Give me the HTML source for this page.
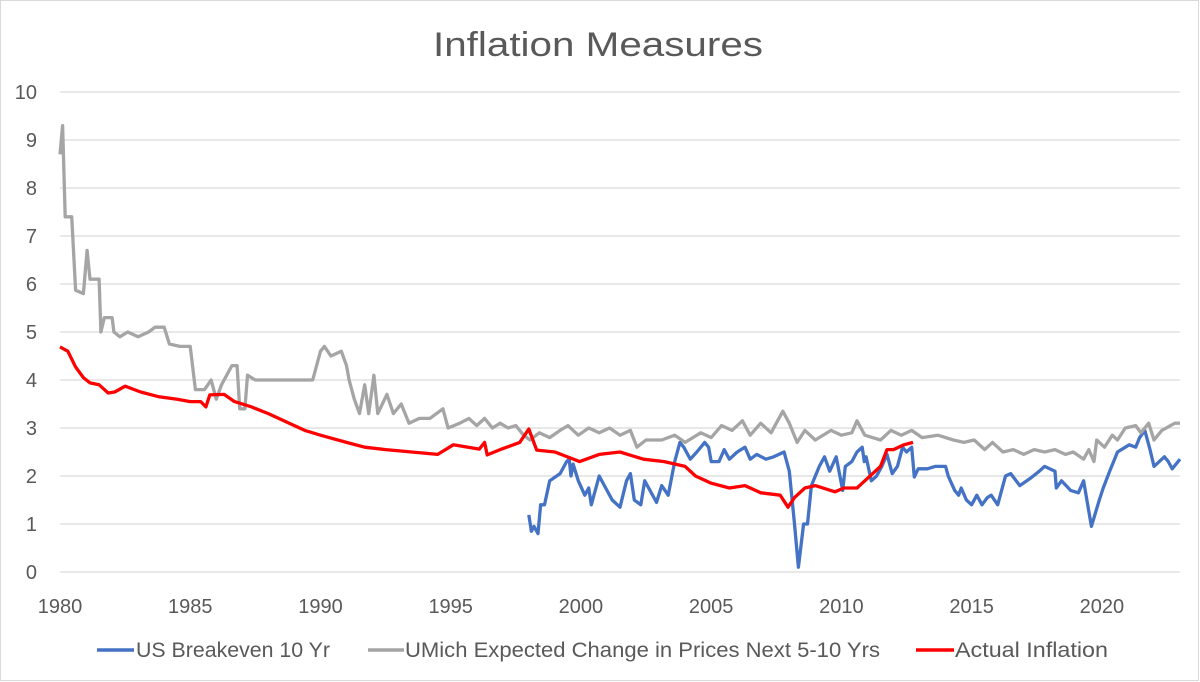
<!DOCTYPE html>
<html><head><meta charset="utf-8">
<style>
html,body{margin:0;padding:0;background:#fff;}
svg{display:block;font-family:"Liberation Sans",sans-serif;}
</style></head>
<body>
<svg id="chart" width="1200" height="682" viewBox="0 0 1200 682" xmlns="http://www.w3.org/2000/svg">
<rect x="0.5" y="0.5" width="1198" height="680" fill="#fff" stroke="#d9d9d9"/>
<text x="433" y="56" textLength="330" lengthAdjust="spacingAndGlyphs" font-size="34" fill="#595959">Inflation Measures</text>
<g id="grid"></g><g id="ylabels"></g><g id="xlabels"></g><g id="series"></g>
<g font-size="21" fill="#595959">
<g><line x1="97" y1="650" x2="134" y2="650" stroke="#4472C4" stroke-width="3.5"/><text x="136" y="657" textLength="194" lengthAdjust="spacingAndGlyphs">US Breakeven 10 Yr</text></g>
<g><line x1="368" y1="650" x2="404" y2="650" stroke="#A5A5A5" stroke-width="3.5"/><text x="405" y="657" textLength="475" lengthAdjust="spacingAndGlyphs">UMich Expected Change in Prices Next 5-10 Yrs</text></g>
<g><line x1="916" y1="650" x2="954" y2="650" stroke="#FF0000" stroke-width="3.5"/><text x="955" y="657" textLength="153" lengthAdjust="spacingAndGlyphs">Actual Inflation</text></g>
</g>
</svg>
<script>
const yTicks=[0,1,2,3,4,5,6,7,8,9,10];
const xTicks=[1980,1985,1990,1995,2000,2005,2010,2015,2020];
const breakevenYears=[1998.0,1998.1,1998.2,1998.35,1998.45,1998.6,1998.8,1999.2,1999.45,1999.55,1999.62,1999.7,1999.9,2000.15,2000.3,2000.4,2000.7,2000.9,2001.2,2001.5,2001.75,2001.9,2002.05,2002.3,2002.45,2002.65,2002.9,2003.1,2003.35,2003.6,2003.8,2003.95,2004.2,2004.45,2004.75,2004.9,2005.0,2005.3,2005.5,2005.7,2006.0,2006.3,2006.5,2006.75,2007.1,2007.4,2007.8,2008.0,2008.2,2008.35,2008.55,2008.7,2008.85,2009.15,2009.35,2009.55,2009.8,2010.05,2010.15,2010.4,2010.6,2010.8,2010.88,2010.95,2011.15,2011.35,2011.55,2011.75,2011.95,2012.15,2012.35,2012.5,2012.7,2012.8,2012.95,2013.3,2013.6,2014.0,2014.1,2014.35,2014.5,2014.6,2014.8,2015.0,2015.2,2015.4,2015.6,2015.75,2016.0,2016.3,2016.5,2016.85,2017.25,2017.6,2017.8,2018.2,2018.25,2018.45,2018.8,2019.1,2019.3,2019.6,2019.9,2020.05,2020.3,2020.6,2021.05,2021.3,2021.45,2021.65,2021.85,2022.0,2022.4,2022.55,2022.7,2023.0];
const breakevenValues=[1.19,0.85,0.95,0.8,1.4,1.4,1.9,2.05,2.3,2.35,2.0,2.25,1.9,1.6,1.75,1.4,2.0,1.8,1.5,1.35,1.9,2.05,1.5,1.4,1.9,1.7,1.45,1.8,1.6,2.3,2.7,2.6,2.35,2.5,2.7,2.6,2.3,2.3,2.55,2.35,2.5,2.6,2.35,2.45,2.35,2.4,2.5,2.1,1.0,0.1,1.0,1.0,1.8,2.2,2.4,2.1,2.4,1.7,2.2,2.3,2.5,2.6,2.3,2.4,1.9,2.0,2.2,2.45,2.05,2.2,2.6,2.5,2.6,1.98,2.15,2.15,2.2,2.2,2.0,1.7,1.6,1.75,1.5,1.4,1.6,1.4,1.55,1.6,1.4,2.0,2.05,1.8,1.95,2.1,2.2,2.1,1.75,1.9,1.7,1.65,1.9,0.95,1.5,1.75,2.1,2.5,2.65,2.6,2.8,2.95,2.55,2.2,2.4,2.3,2.15,2.35];
const umichYears=[1980.0,1980.1,1980.2,1980.45,1980.6,1980.9,1981.04,1981.15,1981.5,1981.57,1981.7,1982.0,1982.07,1982.3,1982.6,1983.0,1983.4,1983.65,1984.0,1984.2,1984.6,1985.0,1985.2,1985.55,1985.8,1986.0,1986.2,1986.6,1986.8,1986.9,1987.1,1987.2,1987.5,1989.7,1990.0,1990.15,1990.4,1990.8,1991.0,1991.1,1991.3,1991.5,1991.7,1991.85,1992.05,1992.2,1992.55,1992.8,1993.1,1993.4,1993.8,1994.2,1994.7,1994.9,1995.35,1995.7,1996.0,1996.3,1996.6,1996.9,1997.2,1997.5,1997.8,1998.05,1998.4,1998.8,1999.2,1999.5,1999.9,2000.3,2000.7,2001.1,2001.5,2001.9,2002.15,2002.5,2003.1,2003.6,2004.0,2004.6,2005.0,2005.4,2005.8,2006.2,2006.5,2006.9,2007.3,2007.75,2008.0,2008.3,2008.6,2009.0,2009.6,2010.0,2010.4,2010.6,2010.9,2011.5,2011.9,2012.3,2012.7,2013.1,2013.7,2014.3,2014.7,2015.1,2015.5,2015.8,2016.2,2016.6,2017.0,2017.4,2017.8,2018.2,2018.6,2018.9,2019.3,2019.5,2019.7,2019.8,2020.1,2020.4,2020.6,2020.9,2021.3,2021.5,2021.8,2022.0,2022.3,2022.8,2023.0];
const umichValues=[8.7,9.3,7.4,7.4,5.87,5.8,6.7,6.1,6.1,5.0,5.3,5.3,5.0,4.9,5.0,4.9,5.0,5.1,5.1,4.75,4.7,4.7,3.8,3.8,4.0,3.6,3.9,4.3,4.3,3.4,3.4,4.1,4.0,4.0,4.6,4.7,4.5,4.6,4.3,4.0,3.6,3.3,3.9,3.3,4.1,3.3,3.7,3.3,3.5,3.1,3.2,3.2,3.4,3.0,3.1,3.2,3.05,3.2,3.0,3.1,3.0,3.05,2.85,2.75,2.9,2.8,2.95,3.05,2.85,3.0,2.9,3.0,2.85,2.95,2.6,2.75,2.75,2.85,2.7,2.9,2.8,3.05,2.95,3.15,2.85,3.1,2.9,3.35,3.1,2.7,2.95,2.75,2.95,2.85,2.9,3.15,2.85,2.75,2.95,2.85,2.95,2.8,2.85,2.75,2.7,2.75,2.55,2.7,2.5,2.55,2.45,2.55,2.5,2.55,2.45,2.5,2.35,2.55,2.3,2.75,2.6,2.85,2.75,3.0,3.05,2.9,3.1,2.75,2.95,3.1,3.1];
const actualYears=[1980.0,1980.3,1980.6,1980.9,1981.15,1981.5,1981.85,1982.1,1982.5,1983.1,1983.8,1984.5,1985.0,1985.4,1985.6,1985.75,1986.3,1986.7,1987.3,1988.0,1988.8,1989.4,1990.0,1991.0,1991.7,1992.5,1993.5,1994.5,1995.1,1996.1,1996.3,1996.4,1996.9,1997.65,1998.0,1998.3,1999.0,1999.95,2000.7,2001.5,2002.4,2003.2,2004.0,2004.4,2005.0,2005.7,2006.3,2006.9,2007.65,2007.95,2008.2,2008.6,2009.0,2009.75,2010.1,2010.6,2010.9,2011.5,2011.75,2012.0,2012.4,2012.75];
const actualValues=[4.69,4.6,4.27,4.05,3.94,3.9,3.73,3.75,3.87,3.75,3.65,3.6,3.55,3.55,3.44,3.69,3.7,3.55,3.45,3.3,3.1,2.95,2.85,2.7,2.6,2.55,2.5,2.45,2.65,2.56,2.7,2.44,2.55,2.7,2.98,2.54,2.5,2.3,2.45,2.5,2.35,2.3,2.2,2.0,1.85,1.75,1.8,1.65,1.6,1.35,1.55,1.75,1.8,1.67,1.75,1.75,1.9,2.2,2.55,2.55,2.65,2.7];

const X0=60,X1=1180,Y0=572,Y10=92;
const xs=y=>X0+(y-1980)*(X1-X0)/(2023-1980);
const ys=v=>Y0+(Y10-Y0)*v/10;
const NS='http://www.w3.org/2000/svg';
const grid=document.getElementById('grid'),yl=document.getElementById('ylabels'),xl=document.getElementById('xlabels'),ser=document.getElementById('series');
yTicks.forEach(t=>{
  const l=document.createElementNS(NS,'line');
  
  
  l.setAttribute('x1',X0);l.setAttribute('x2',X1);l.setAttribute('y1',ys(t));l.setAttribute('y2',ys(t));
  l.setAttribute('stroke','#d9d9d9');l.setAttribute('stroke-width','1.3');
  grid.appendChild(l);
  const tx=document.createElementNS(NS,'text');
  
  
  tx.setAttribute('x',37);tx.setAttribute('y',ys(t)+7);tx.setAttribute('text-anchor','end');
  tx.setAttribute('font-size','20');tx.setAttribute('fill','#595959');tx.textContent=t;
  yl.appendChild(tx);
});
xTicks.forEach(t=>{
  const tx=document.createElementNS(NS,'text');
  
  
  tx.setAttribute('x',xs(t));tx.setAttribute('y',613);tx.setAttribute('text-anchor','middle');
  tx.setAttribute('font-size','20');tx.setAttribute('fill','#595959');tx.textContent=t;
  xl.appendChild(tx);
});
function draw(yrs,vals,color,name){
  const p=document.createElementNS(NS,'polyline');
  
  
  p.setAttribute('points',yrs.map((y,i)=>xs(y).toFixed(1)+','+ys(vals[i]).toFixed(1)).join(' '));
  p.setAttribute('fill','none');p.setAttribute('stroke',color);p.setAttribute('stroke-width','3.3');
  p.setAttribute('stroke-linejoin','round');
  ser.appendChild(p);
}
draw(breakevenYears,breakevenValues,'#4472C4','breakeven-line');
draw(umichYears,umichValues,'#A5A5A5','umich-line');
draw(actualYears,actualValues,'#FF0000','actual-inflation-line');
</script>
</body></html>
